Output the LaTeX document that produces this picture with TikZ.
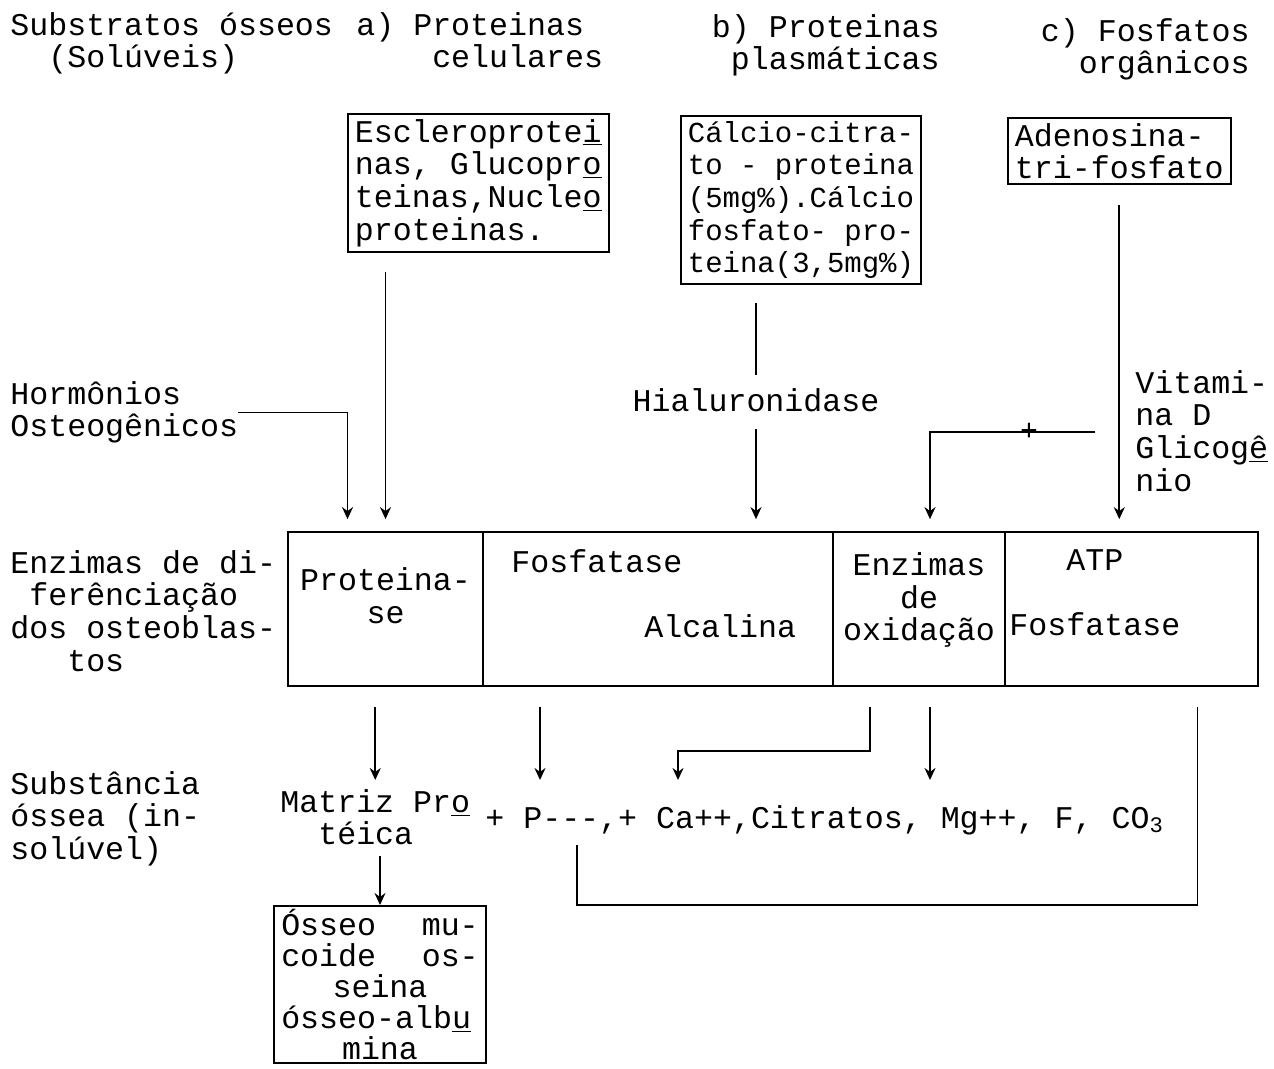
\documentclass[tikz,border=0pt]{standalone}
\usepackage{fontspec}
\setmainfont{Liberation Mono}
\usetikzlibrary{positioning,arrows.meta,fit,calc}

\newcommand{\hif}[1]{\underline{#1}}
\newcommand{\esp}[1]{\hspace*{#1\dimexpr0.6em\relax}}

\begin{document}
\begin{tikzpicture}[x=0.02cm, y=-0.02cm,
    font=\fontsize{18}{18.6}\selectfont,
    txt/.style={inner sep=0pt, align=left},
    caixa/.style={draw, line width=1pt, inner xsep=4pt, inner ysep=3pt,
                  align=left, anchor=north west},
    cel/.style={draw, line width=1pt, inner sep=0pt},
    f/.style={-{Stealth[length=2.4mm, width=2.2mm]}, line width=1pt},
    l/.style={line width=1pt},
  ]
  \useasboundingbox (0,0) rectangle (1274,1068);

  % --- Substratos (linha de cima) ---
  \node[txt, anchor=north west] (subst) at (10,12) {Substratos ósseos\\\esp{2}(Solúveis)};
  \node[txt, anchor=north west] (pcel) at (356,12) {a) Proteinas\\\esp{4}celulares};
  \node[txt, anchor=north east, align=right] (pplas) at (940,14) {b) Proteinas\\plasmáticas};
  \node[txt, anchor=north east, align=right] (forg) at (1250,18) {c) Fosfatos\\orgânicos};

  % --- Caixas dos substratos ---
  \node[caixa] (escl) at (347,113)
    {Escleroprote\hif{i}\\nas, Glucopr\hif{o}\\teinas,Nucle\hif{o}\\proteinas.};
  \node[caixa, font=\fontsize{16.5}{18.6}\selectfont] (cacit) at (680,115)
    {Cálcio-citra-\\to - proteina\\(5mg\%).Cálcio\\fosfato- pro-\\teina(3,5mg\%)};
  \node[caixa] (atpf) at (1007,117) {Adenosina-\\tri-fosfato};

  % --- Rótulos intermédios ---
  \node[txt, anchor=north west] (horm) at (10,381) {Hormônios\\Osteogênicos};
  \node[txt] (hial) at (756,400) {Hialuronidase};
  \node[txt, anchor=north west] (vitd) at (1135,370) {Vitami-\\na D\\Glicog\hif{ê}\\nio};
  \coordinate (vd) at (1095,432);

  % --- Tabela das enzimas ---
  \node[txt, anchor=north west] (enzd) at (10,550)
    {Enzimas de di-\\\esp{1}ferênciação\\dos osteoblas-\\\esp{3}tos};
  \node[cel, fit={(288,532) (483,686)}] (prot) {};
  \node[cel, fit={(483,532) (833,686)}] (falc) {};
  \node[cel, fit={(833,532) (1005,686)}] (oxi) {};
  \node[cel, fit={(1005,532) (1258,686)}] (atp) {};
  \node[txt, align=center] at ($(prot.center)+(0,-13)$) {Proteina-\\se};
  \node[txt, anchor=north west] at ($(falc.north west)+(29,18)$)
    {Fosfatase\\\mbox{}\\\esp{7}Alcalina};
  \node[txt, align=center] at ($(oxi.center)+(0,-9)$) {Enzimas\\de\\oxidação};
  \node[txt, anchor=north west] at ($(atp.north west)+(5,18)$)
    {\esp{3}ATP\\\mbox{}\\Fosfatase};

  % --- Substância óssea (em baixo) ---
  \node[txt, anchor=north west] (sins) at (10,771) {Substância\\óssea (in-\\solúvel)};
  \node[txt, anchor=north west] (matr) at (280,789) {Matriz Pr\hif{o}\\\esp{2}téica};
  \node[txt, anchor=west] (sais) at (485,820)
    {+ P-{}-{}-,+ Ca++,Citratos, Mg++, F, CO\textsubscript{3}};
  \node[caixa, anchor=north, text width=3.95cm, inner ysep=2pt,
        font=\fontsize{18}{17.6}\selectfont] (osseo) at (380,905)
    {Ósseo\hfill mu-\\coide\hfill os-\\\mbox{}\hfill seina\hfill\mbox{}\\
     ósseo-alb\hif{u}\\\mbox{}\hfill mina\hfill\mbox{}};
  \coordinate (pP) at (540,780);
  \coordinate (pCa) at (678,780);
  \coordinate (pCit) at (930,780);
  \coordinate (pRet) at (577,845);
  \coordinate (fundo) at (577,905);

  % --- Setas de cima ---
  \draw[f, shorten <=0.38cm, shorten >=0.24cm] (prot.north |- escl.south) -- (prot.north);
  \draw[f, shorten >=0.24cm] (horm.east) -| ($(prot.north)+(-38,0)$);
  \draw[l, shorten <=0.36cm, shorten >=0.26cm] (hial.north |- cacit.south) -- (hial.north);
  \draw[f, shorten <=0.34cm, shorten >=0.24cm] (hial.south) -- (hial.south |- falc.north);
  \draw[f, shorten <=0.4cm, shorten >=0.24cm] (atpf.south) -- (atpf.south |- atp.north);
  \draw[f, shorten >=0.24cm] (vd) -|
    node[pos=0.2, txt, font=\fontsize{17}{17}\selectfont]{+} ($(oxi.north)+(11,0)$);

  % --- Setas de baixo ---
  \draw[f, shorten <=0.4cm, shorten >=0.18cm] (prot.south -| matr.north) -- (matr.north);
  \draw[f, shorten <=0.4cm] (falc.south -| pP) -- (pP);
  \draw[f, shorten <=0.4cm] ($(oxi.south)+(-49,0)$) -- ++(0,64) -| (pCa);
  \draw[f, shorten <=0.4cm] (oxi.south -| pCit) -- (pCit);
  \draw[l, shorten <=0.4cm] ($(atp.south)+(66,0)$) |- (fundo) -- (pRet);
  \draw[f, shorten <=0.2cm] (matr.south -| osseo.north) -- (osseo.north);
\end{tikzpicture}
\end{document}
